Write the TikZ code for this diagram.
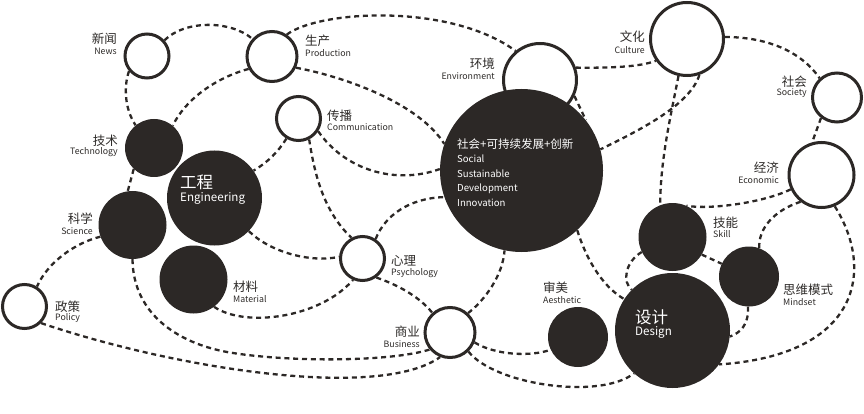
\documentclass[tikz,border=0pt]{standalone}
\usepackage{fontspec}
\newfontfamily\cjk{Noto Sans CJK SC}
\usetikzlibrary{backgrounds}
\definecolor{ink}{RGB}{44,40,38}
\definecolor{txt}{RGB}{45,42,40}
\begin{document}
\begin{tikzpicture}[x=1pt,y=-1pt,
  ring/.style={circle,draw=ink,line width=3pt,fill=white,inner sep=0pt},
  blob/.style={circle,fill=ink,inner sep=0pt},
  link/.style={draw=ink,line width=2.3pt,dash pattern=on 5pt off 3.8pt},
  cn/.style={inner sep=0pt,text=txt,font=\cjk\fontsize{12.5}{13}\selectfont},
  en/.style={inner sep=0pt,text=txt,font=\cjk\fontsize{8.8}{10}\selectfont},
  cnw/.style={inner sep=0pt,text=white,font=\cjk\fontsize{16.5}{17}\selectfont},
  enw/.style={inner sep=0pt,text=white,font=\cjk\fontsize{11.6}{13}\selectfont},
  cns/.style={inner sep=0pt,text=white,font=\cjk\fontsize{11.5}{13}\selectfont},
  ens/.style={inner sep=0pt,text=white,font=\cjk\fontsize{9.6}{11}\selectfont}]
\useasboundingbox (0,0) rectangle (864,414);
% open circles
\node[ring,minimum size=44pt] (news) at (147,56) {};
\node[ring,minimum size=50pt] (prod) at (272,56.5) {};
\node[ring,minimum size=44pt] (comm) at (298.5,118.5) {};
\node[ring,minimum size=73pt] (env) at (540,80) {};
\node[ring,minimum size=73pt] (cult) at (687,39) {};
\node[ring,minimum size=49pt] (soc) at (837,97.5) {};
\node[ring,minimum size=65pt] (econ) at (821.5,175) {};
\node[ring,minimum size=44pt] (pol) at (24.5,306.5) {};
\node[ring,minimum size=44pt] (psy) at (362.5,258.5) {};
\node[ring,minimum size=50pt] (bus) at (450,332.5) {};
% filled circles
\node[blob,minimum size=163pt] (big) at (521.5,170.5) {};
\node[blob,minimum size=58pt] (tech) at (154,148) {};
\node[blob,minimum size=95pt] (eng) at (214.5,198) {};
\node[blob,minimum size=68pt] (sci) at (132.5,225) {};
\node[blob,minimum size=68pt] (mat) at (193.5,279.5) {};
\node[blob,minimum size=60pt] (aes) at (578,337) {};
\node[blob,minimum size=115pt] (des) at (672.5,330.5) {};
\node[blob,minimum size=68pt] (skill) at (672.5,237) {};
\node[blob,minimum size=60pt] (mind) at (749,276.5) {};
% connectors
\begin{pgfonlayer}{background}
\draw[link] (news.42) .. controls (185,20) and (230,20) .. (prod.138);
\draw[link] (news.220) .. controls (124,85) and (124,108) .. (tech.129);
\draw[link] (prod.208) .. controls (215,78) and (185,100) .. (tech.50);
\draw[link] (prod.56) .. controls (320,10) and (450,3) .. (env.130);
\draw[link] (prod.335) .. controls (350,78) and (420,105) .. (big.161);
\draw[link] (comm.327) .. controls (345,170) and (395,185) .. (big.179);
\draw[link] (comm.297) .. controls (314,170) and (322,210) .. (psy.118);
\draw[link] (comm.239) .. controls (278,152) and (268,162) .. (eng.35);
\draw[link] (psy.56) .. controls (385,215) and (410,198) .. (big.199);
\draw[link] (eng.316) .. controls (270,252) and (310,263) .. (psy.176);
\draw[link] (tech.226) -- (sci.98);
\draw[link] (sci.200) .. controls (75,243) and (48,262) .. (pol.58);
\draw[link] (sci.270) .. controls (133,315) and (180,345) .. (233,353)
   .. controls (290,362) and (390,362) .. (bus.220);
\draw[link] (pol.315) .. controls (180,370) and (380,400) .. (bus.248);
\draw[link] (mat.307) .. controls (245,328) and (320,318) .. (psy.246);
\draw[link] (psy.306) .. controls (395,284) and (418,295) .. (bus.132);
\draw[link] (bus.47) .. controls (485,300) and (503,275) .. (big.258);
\draw[link] (bus.338) .. controls (495,355) and (530,357) .. (aes.205);
\draw[link] (bus.314) .. controls (495,385) and (600,400) .. (des.228);
\draw[link] (big.313) .. controls (585,255) and (600,285) .. (des.147);
\draw[link] (env.335) -- (big.38);
\draw[link] (env.19) .. controls (610,68) and (640,67) .. (cult.215);
\draw[link] (cult.257) .. controls (672,110) and (660,160) .. (skill.111);
\draw[link] (cult.289) .. controls (690,105) and (640,130) .. (big.15);
\draw[link] (cult.3) .. controls (765,37) and (800,50) .. (soc.132);
\draw[link] (soc.232) -- (econ.106);
\draw[link] (econ.205) .. controls (765,202) and (712,210) .. (skill.66);
\draw[link] (econ.232) .. controls (775,210) and (758,228) .. (mind.70);
\draw[link] (econ.293) .. controls (875,270) and (860,355) .. (des.324);
\draw[link] (skill.329) -- (mind.155);
\draw[link] (skill.206) .. controls (625,262) and (622,282) .. (des.135);
\draw[link] (mind.268) .. controls (749,325) and (740,333) .. (des.354);
\end{pgfonlayer}
% labels
\node[cn,anchor=base east] (newsC) at (117,44) {新闻};
\node[en,anchor=base east] (newsE) at (117,55) {News};
\node[cn,anchor=base west] (prodC) at (305,46) {生产};
\node[en,anchor=base west] (prodE) at (305,57) {Production};
\node[cn,anchor=base west] (commC) at (327,121) {传播};
\node[en,anchor=base west] (commE) at (327,131) {Communication};
\node[cn,anchor=base east] (envC) at (495,69) {环境};
\node[en,anchor=base east] (envE) at (495,80) {Environment};
\node[cn,anchor=base east] (cultC) at (645,42) {文化};
\node[en,anchor=base east] (cultE) at (645,54) {Culture};
\node[cn,anchor=base east] (socC) at (807,87) {社会};
\node[en,anchor=base east] (socE) at (807,96) {Society};
\node[cn,anchor=base east] (econC) at (779,172) {经济};
\node[en,anchor=base east] (econE) at (779,183) {Economic};
\node[cn,anchor=base east] (techC) at (118,146) {技术};
\node[en,anchor=base east] (techE) at (118,155) {Technology};
\node[cn,anchor=base east] (sciC) at (93,223) {科学};
\node[en,anchor=base east] (sciE) at (93,234) {Science};
\node[cn,anchor=base west] (matC) at (233,291) {材料};
\node[en,anchor=base west] (matE) at (233,302) {Material};
\node[cn,anchor=base west] (polC) at (55,311) {政策};
\node[en,anchor=base west] (polE) at (55,320) {Policy};
\node[cn,anchor=base west] (psyC) at (391,265) {心理};
\node[en,anchor=base west] (psyE) at (391,275) {Psychology};
\node[cn,anchor=base east] (busC) at (420,336) {商业};
\node[en,anchor=base east] (busE) at (420,347) {Business};
\node[cn,anchor=base west] (aesC) at (543,292) {审美};
\node[en,anchor=base west] (aesE) at (543,303) {Aesthetic};
\node[cn,anchor=base west] (skillC) at (713,227) {技能};
\node[en,anchor=base west] (skillE) at (713,237) {Skill};
\node[cn,anchor=base west] (mindC) at (783,294) {思维模式};
\node[en,anchor=base west] (mindE) at (783,305) {Mindset};
\node[cnw,anchor=base west] (engC) at (180,189) {工程};
\node[enw,anchor=base west] (engE) at (180,201) {Engineering};
\node[cnw,anchor=base west] (desC) at (635,323) {设计};
\node[enw,anchor=base west] (desE) at (635,335) {Design};
\node[cns,anchor=base west] (bigC) at (457,149) {社会+可持续发展+创新};
\node[ens,anchor=base west] (bigE1) at (457,163) {Social};
\node[ens,anchor=base west] (bigE2) at (457,177.5) {Sustainable};
\node[ens,anchor=base west] (bigE3) at (457,192) {Development};
\node[ens,anchor=base west] (bigE4) at (457,206.5) {Innovation};
\end{tikzpicture}
\end{document}
